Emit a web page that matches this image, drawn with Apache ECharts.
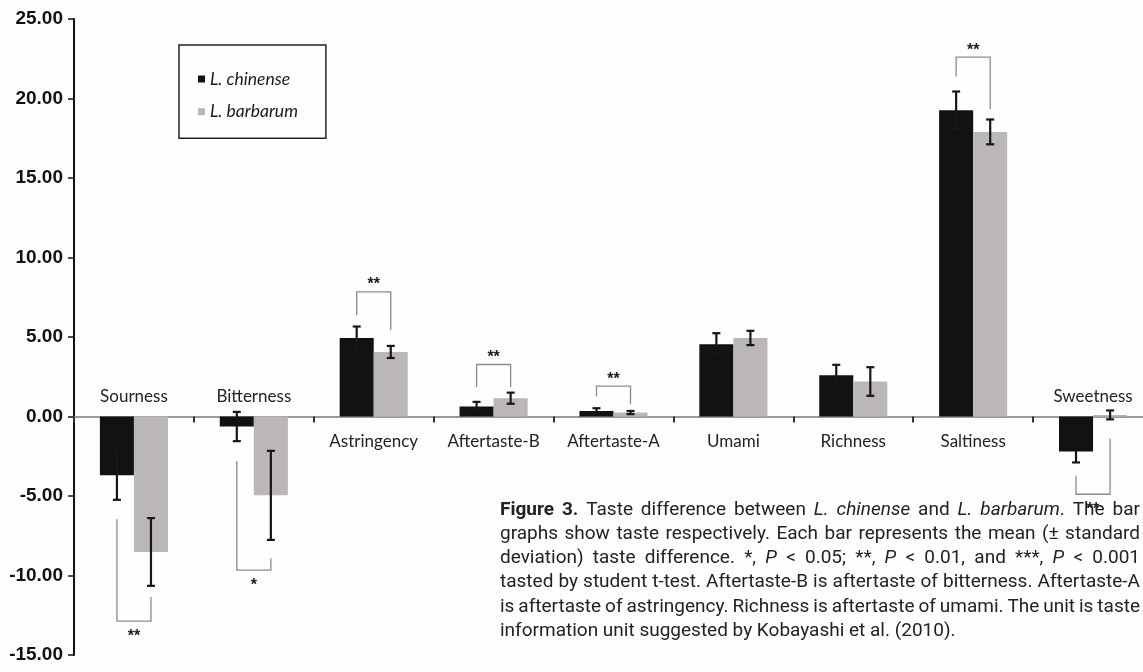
<!DOCTYPE html>
<html>
<head>
<meta charset="utf-8">
<script src="https://cdn.jsdelivr.net/npm/echarts@6/dist/echarts.min.js"></script>
<style>
  html, body { margin: 0; padding: 0; background: #fefefe; }
  #chart { width: 1143px; height: 672px; }
</style>
</head>
<body>
<div id="chart"></div>
<script>
// Taste categories and mean (± SD) taste differences for the two species
const categories = ['Sourness', 'Bitterness', 'Astringency', 'Aftertaste-B', 'Aftertaste-A', 'Umami', 'Richness', 'Saltiness', 'Sweetness'];
const chinenseMean = [-3.69, -0.63, 4.94, 0.63, 0.35, 4.55, 2.60, 19.26, -2.20];
const chinenseSD   = [1.55, 0.92, 0.72, 0.29, 0.17, 0.69, 0.65, 1.18, 0.69];
const barbarumMean = [-8.52, -4.96, 4.06, 1.15, 0.25, 4.94, 2.20, 17.90, 0.10];
const barbarumSD   = [2.13, 2.80, 0.38, 0.35, 0.10, 0.45, 0.90, 0.78, 0.28];

// Significance brackets: [category index, left end, right end, bracket level]
const bracketIndex = [0, 1, 2, 3, 4, 7, 8];
const bracketLeft  = [-6.46, -2.81, 6.37, 1.86, 1.28, 21.40, -3.74];
const bracketRight = [-11.36, -8.91, 5.43, 1.86, 0.77, 19.33, -1.38];
const bracketLevel = [-12.87, -9.66, 7.84, 3.27, 1.91, 22.60, -4.89];
const bracketStars = ['**', '*', '**', '**', '**', '**', '**'];

// Y axis
const yMin = -15, yMax = 25, yStep = 5;

const seriesNames = ['L. chinense', 'L. barbarum'];
const BAR_FRAC = 0.284; // width of one bar as a share of a category band

const captionLines = [
  [['b', 'Figure 3.'], ['n', ' Taste difference between '], ['i', 'L. chinense'], ['n', ' and '], ['i', 'L. barbarum'], ['n', '. The bar']],
  [['n', 'graphs show taste respectively. Each bar represents the mean (\u00b1 standard']],
  [['n', 'deviation) taste difference. *, '], ['i', 'P'], ['n', ' < 0.05; **, '], ['i', 'P'], ['n', ' < 0.01, and ***, '], ['i', 'P'], ['n', ' < 0.001']],
  [['n', 'tasted by student t-test. Aftertaste-B is aftertaste of bitterness. Aftertaste-A']],
  [['n', 'is aftertaste of astringency. Richness is aftertaste of umami. The unit is taste']],
  [['n', 'information unit suggested by Kobayashi et al. (2010).']]
];

const chart = echarts.init(document.getElementById('chart'), null, { renderer: 'canvas' });

const BLACK = '#121212';
const GREY = '#bab7b6';
const ERR = '#161616';
const LABEL_FONT = '17px Lato';

function renderErrorBar(params, api) {
  const i = api.value(0), m = api.value(1), sd = api.value(2), side = api.value(3);
  const band = api.size([1, 0])[0];
  const x = api.coord([i, m])[0] + side * band * BAR_FRAC / 2;
  const yTop = api.coord([i, m + sd])[1];
  const yBot = api.coord([i, m - sd])[1];
  const cap = 4;
  const st = { stroke: ERR, lineWidth: 2.2 };
  return {
    type: 'group',
    children: [
      { type: 'line', shape: { x1: x, y1: yTop, x2: x, y2: yBot }, style: st },
      { type: 'line', shape: { x1: x - cap, y1: yTop, x2: x + cap, y2: yTop }, style: st },
      { type: 'line', shape: { x1: x - cap, y1: yBot, x2: x + cap, y2: yBot }, style: st }
    ]
  };
}

function renderBracket(params, api) {
  const i = api.value(0);
  const band = api.size([1, 0])[0];
  const off = band * BAR_FRAC / 2;
  const cx = api.coord([i, 0])[0];
  const xl = cx - off, xr = cx + off;
  const yl = api.coord([i, api.value(1)])[1];
  const yr = api.coord([i, api.value(2)])[1];
  const yb = api.coord([i, api.value(3)])[1];
  const up = yb < yl;
  return {
    type: 'group',
    children: [
      {
        type: 'polyline',
        shape: { points: [[xl, yl], [xl, yb], [xr, yb], [xr, yr]] },
        style: { stroke: '#8a8a8a', lineWidth: 1.3, fill: null }
      },
      {
        type: 'text',
        x: cx, y: yb + (up ? -7 : 15),
        style: {
          text: bracketStars[params.dataIndex],
          font: 'bold 16px "Liberation Sans"',
          fill: '#1c1c1c',
          align: 'center', textAlign: 'center',
          verticalAlign: 'middle', textVerticalAlign: 'middle'
        }
      }
    ]
  };
}

// Category names: below the zero line, or above it for groups whose bars point down
function renderCategoryLabel(params, api) {
  const i = api.value(0);
  const p = api.coord([i, 0]);
  const above = chinenseMean[i] < 0;
  return {
    type: 'text',
    x: p[0], y: above ? p[1] - 11 : p[1] + 17,
    style: {
      text: categories[i], font: LABEL_FONT, fill: '#222',
      align: 'center', textAlign: 'center',
      verticalAlign: above ? 'bottom' : 'top', textVerticalAlign: above ? 'bottom' : 'top'
    }
  };
}

// Justified caption, one text element per word piece
function buildCaption() {
  const X0 = 500, X1 = 1140, Y0 = 510, LH = 24.2;
  const ctx = document.createElement('canvas').getContext('2d');
  const fontFor = (s, size) => (s === 'i' ? 'italic ' : '') + (s === 'b' ? 'bold ' : '') + size + 'px Roboto';
  const measure = (s, t, size) => { ctx.font = fontFor(s, size); return ctx.measureText(t).width; };

  const lines = captionLines.map(segs => {
    const words = [];
    let cur = null;
    segs.forEach(([s, txt]) => {
      txt.split(' ').forEach((p, k) => {
        if (k > 0) { if (cur && cur.length) words.push(cur); cur = []; }
        if (!cur) cur = [];
        if (p) cur.push([s, p]);
      });
    });
    if (cur && cur.length) words.push(cur);
    return words;
  });

  // largest size that keeps a reasonable word gap on every justified line
  let size = 19.5;
  const fits = sz => lines.slice(0, -1).every(words => {
    const total = words.reduce((a, w) => a + w.reduce((b, [s, p]) => b + measure(s, p, sz), 0), 0);
    return (X1 - X0 - total) / (words.length - 1) >= 0.2 * sz;
  });
  while (size > 14 && !fits(size)) size -= 0.25;

  const els = [];
  lines.forEach((words, li) => {
    const widths = words.map(w => w.reduce((a, [s, p]) => a + measure(s, p, size), 0));
    const total = widths.reduce((a, b) => a + b, 0);
    const last = li === lines.length - 1;
    const gap = last ? measure('n', ' ', size) : (X1 - X0 - total) / (words.length - 1);
    let x = X0;
    const y = Y0 + li * LH;
    words.forEach((w, wi) => {
      let px = x;
      w.forEach(([s, p]) => {
        els.push({
          type: 'text', x: px, y: y, silent: true,
          style: { text: p, font: fontFor(s, size), fill: '#222', verticalAlign: 'middle', textVerticalAlign: 'middle' }
        });
        px += measure(s, p, size);
      });
      x += widths[wi] + gap;
    });
  });
  return els;
}

const option = {
  animation: false,
  backgroundColor: '#fefefe',
  grid: { left: 74, top: 19, width: 1079, height: 636, outerBoundsMode: 'none', containLabel: false },
  legend: {
    data: seriesNames,
    orient: 'vertical',
    left: 179, top: 45,
    padding: [25, 28, 17.5, 19],
    itemGap: 14.7,
    itemWidth: 7, itemHeight: 7,
    icon: 'rect',
    borderColor: '#222', borderWidth: 1.5,
    textStyle: { fontFamily: 'Lato', fontStyle: 'italic', fontSize: 17.5, color: '#1a1a1a', lineHeight: 16 }
  },
  xAxis: {
    type: 'category', data: categories, position: 'bottom',
    axisLine: { onZero: true, lineStyle: { color: '#9a9a9a', width: 2 } },
    axisTick: { show: true, length: 6, inside: false, lineStyle: { color: '#333', width: 2 } },
    axisLabel: { show: false },
    splitLine: { show: false }
  },
  yAxis: {
    type: 'value', min: yMin, max: yMax, interval: yStep,
    axisLine: { show: true, onZero: false, lineStyle: { color: '#111', width: 2 } },
    axisTick: { show: true, length: 6, inside: false, lineStyle: { color: '#111', width: 1.5 } },
    axisLabel: {
      margin: 11, fontFamily: 'Liberation Sans', fontWeight: 'bold', fontSize: 19, color: '#111',
      formatter: v => v.toFixed(2)
    },
    splitLine: { show: false }
  },
  series: [
    { name: seriesNames[0], type: 'bar', data: chinenseMean, barWidth: (BAR_FRAC * 100) + '%', barGap: '0%', itemStyle: { color: BLACK } },
    { name: seriesNames[1], type: 'bar', data: barbarumMean, barWidth: (BAR_FRAC * 100) + '%', barGap: '0%', itemStyle: { color: GREY } },
    {
      type: 'custom', renderItem: renderErrorBar, z: 5,
      data: categories.map((c, i) => [i, chinenseMean[i], chinenseSD[i], -1])
        .concat(categories.map((c, i) => [i, barbarumMean[i], barbarumSD[i], 1]))
    },
    {
      type: 'custom', renderItem: renderBracket, z: 4,
      data: bracketIndex.map((ci, k) => [ci, bracketLeft[k], bracketRight[k], bracketLevel[k]])
    },
    {
      type: 'custom', renderItem: renderCategoryLabel, z: 4, silent: true, clip: false,
      data: categories.map((c, i) => [i, 0])
    }
  ],
  graphic: buildCaption()
};

chart.setOption(option);
</script>
</body>
</html>
